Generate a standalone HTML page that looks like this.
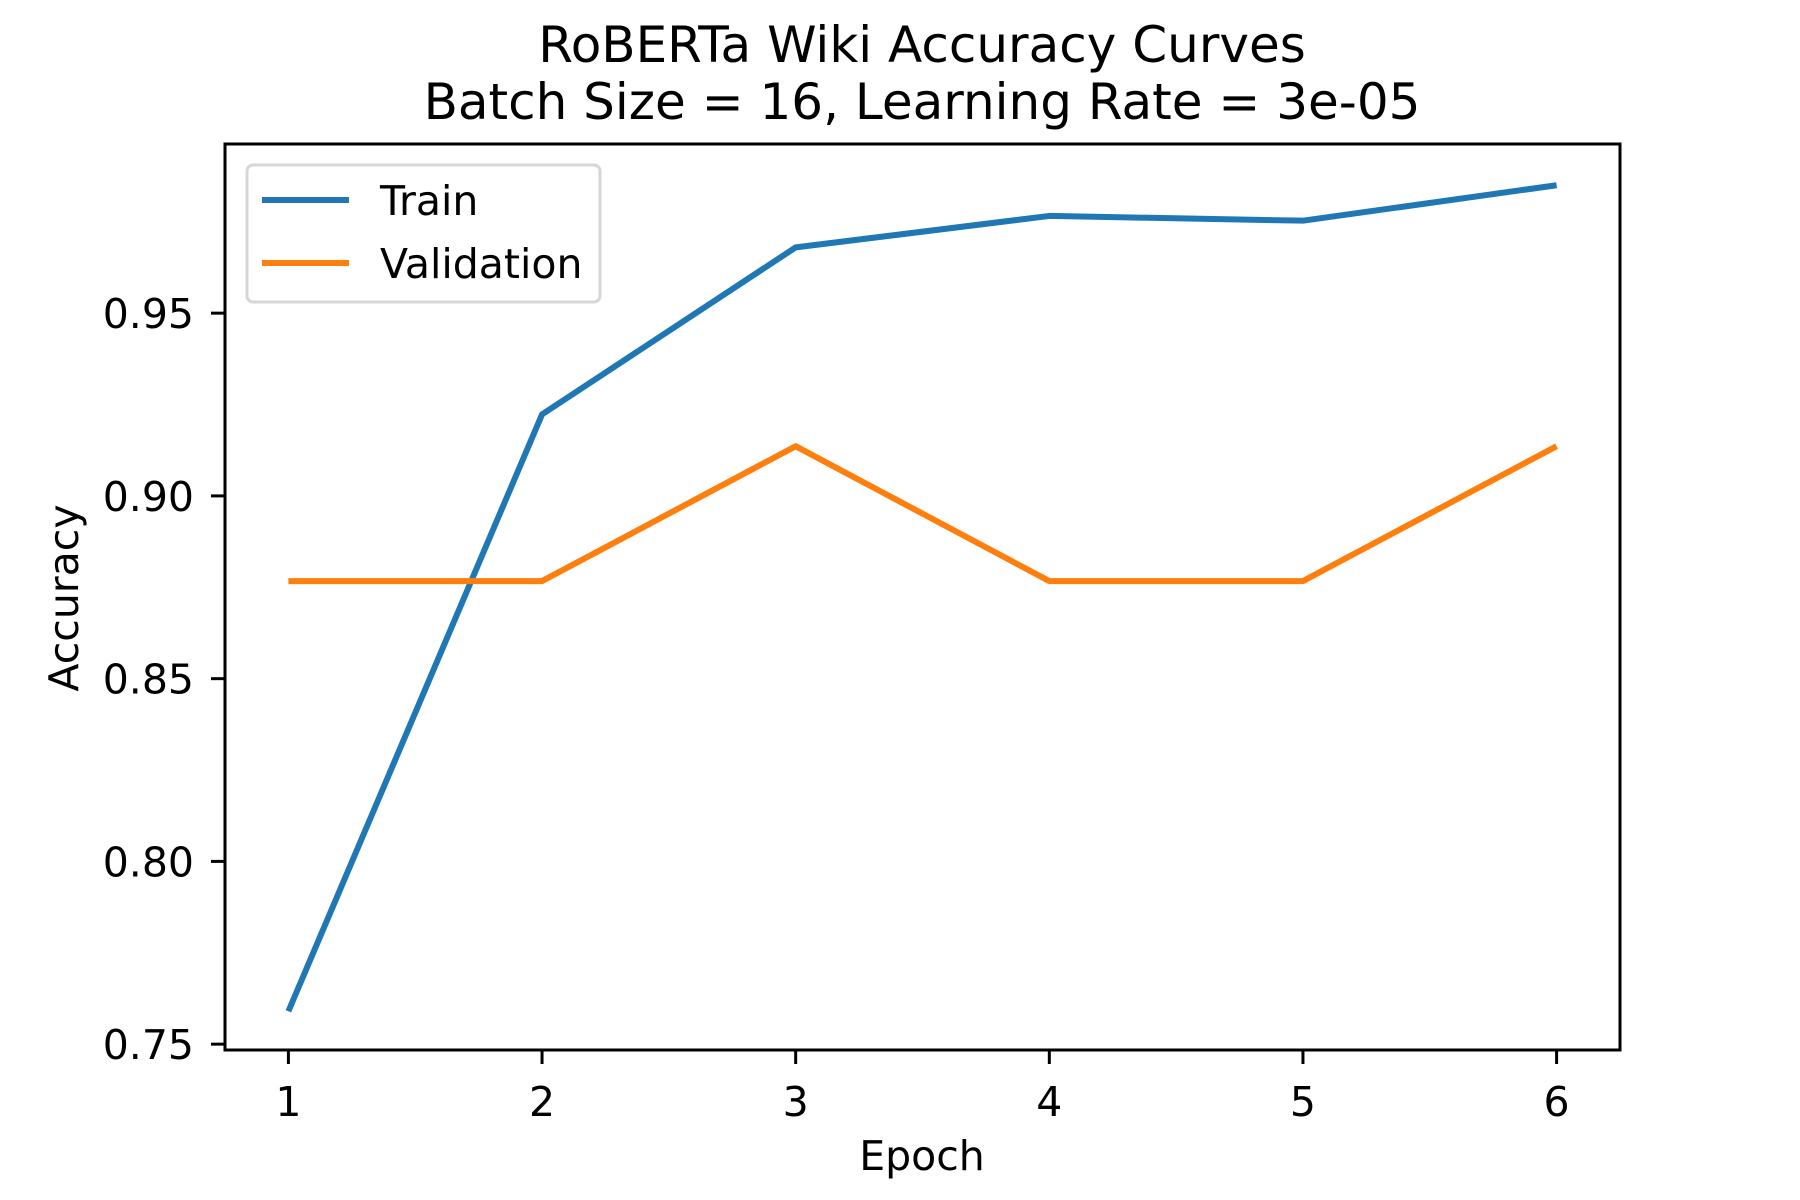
<!DOCTYPE html>
<html><head><meta charset="utf-8"><style>body{margin:0;background:#fff}svg{display:block}text{font-family:"DejaVu Sans","Liberation Sans",sans-serif;fill:#000}</style></head>
<body>
<svg id="chart" width="1800" height="1200" viewBox="0 0 1800 1200" xmlns="http://www.w3.org/2000/svg">
<rect width="1800" height="1200" fill="#fff"/>
<text x="922" y="62" font-size="50" text-anchor="middle">RoBERTa Wiki Accuracy Curves</text>
<text x="922" y="119" font-size="50" text-anchor="middle">Batch Size = 16, Learning Rate = 3e-05</text>
<g id="ticks"></g>
<g id="series"></g>
<rect x="225" y="144" width="1395" height="906" fill="none" stroke="#000" stroke-width="3"/>
<text x="922" y="1170" font-size="41" text-anchor="middle">Epoch</text>
<text transform="translate(78,598) rotate(-90)" font-size="41" text-anchor="middle">Accuracy</text>
<g>
<rect x="247" y="165" width="353" height="137" rx="6" fill="#fff" stroke="#d6d6d6" stroke-width="3"/>
<line x1="262" y1="200" x2="349" y2="200" stroke="#1f77b4" stroke-width="6"/>
<text x="380" y="215" font-size="41">Train</text>
<line x1="262" y1="263" x2="349" y2="263" stroke="#ff7f0e" stroke-width="6"/>
<text x="380" y="278" font-size="41">Validation</text>
</g>
</svg>
<script>
const epochs=[1,2,3,4,5,6];
const trainAcc=[0.7590,0.9223,0.968,0.9766,0.9753,0.985];
const valAcc=[0.8767,0.8767,0.9136,0.8767,0.8767,0.9136];
const yTicks=[0.75,0.80,0.85,0.90,0.95];
const yTickLabels=["0.75","0.80","0.85","0.90","0.95"];
const NS="http://www.w3.org/2000/svg";
const xs=e=>288.4+(e-1)*(1556.6-288.4)/5;
const ys=v=>1050-(v-0.7484)*3655;
const tg=document.getElementById('ticks');
function mk(t,a,p){const el=document.createElementNS(NS,t);for(const k in a)el.setAttribute(k,a[k]);p.appendChild(el);return el;}
epochs.forEach(e=>{
 const l=mk('line',{x1:xs(e),x2:xs(e),y1:1050,y2:1064,stroke:'#000','stroke-width':3},tg);
 
 
 const t=mk('text',{x:xs(e),y:1116,'font-size':41,'text-anchor':'middle'},tg);t.textContent=e;
 
 
});
yTicks.forEach((v,i)=>{
 const l=mk('line',{x1:211,x2:225,y1:ys(v),y2:ys(v),stroke:'#000','stroke-width':3},tg);
 
 
 const t=mk('text',{x:194,y:ys(v)+15,'font-size':41,'text-anchor':'end'},tg);t.textContent=yTickLabels[i];
 
 
});
const sg=document.getElementById('series');
function line(vals,color,name){
 const p=mk('polyline',{points:vals.map((v,i)=>xs(epochs[i])+','+ys(v)).join(' '),fill:'none',stroke:color,'stroke-width':6,'stroke-linejoin':'round'},sg);
 
 
}
line(trainAcc,'#1f77b4','train-line');
line(valAcc,'#ff7f0e','validation-line');
</script>
</body></html>
